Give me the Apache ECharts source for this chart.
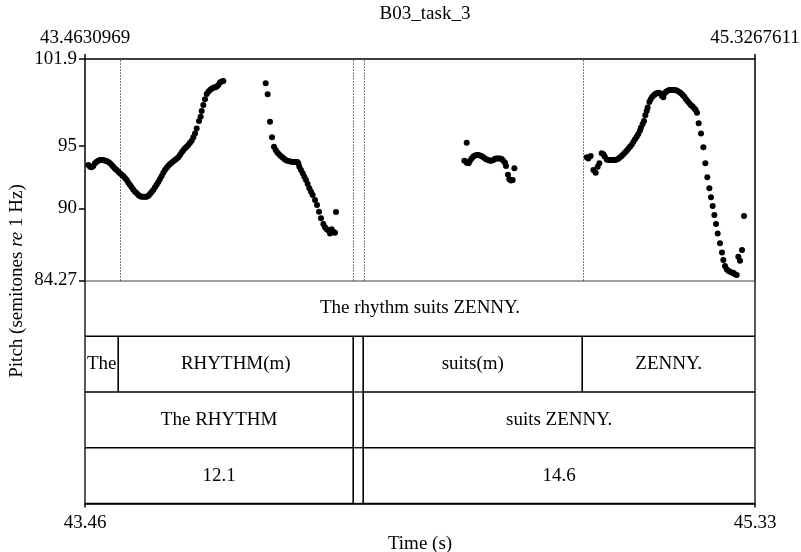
<!DOCTYPE html>
<html><head><meta charset="utf-8">
<script src="https://cdn.jsdelivr.net/npm/echarts@6/dist/echarts.min.js"></script>
<style>html,body{margin:0;padding:0;background:#fff}#c{width:801px;height:552px}</style>
</head><body><div id="c"></div>
<script>
// ---------- axis ranges & tick labels ----------
const tStart = 43.4630969, tEnd = 45.3267611;
const pMin = 84.27, pMax = 101.9;
const pitchTicks = [84.27, 90, 95, 101.9];
const timeTicks = [tStart, tEnd];

// ---------- pitch points (time s, semitones re 1 Hz) ----------
const seg1T = [43.4724,43.4770,43.4816,43.4863,43.4909,43.4956,43.5002,43.5048,43.5095,43.5141,43.5188,43.5234,43.5280,43.5327,43.5373,43.5419,43.5466,43.5512,43.5558,43.5605,43.5651,43.5697,43.5744,43.5790,43.5837,43.5883,43.5929,43.5976,43.6022,43.6068,43.6115,43.6161,43.6207,43.6254,43.6300,43.6346,43.6393,43.6439,43.6485,43.6532,43.6578,43.6624,43.6671,43.6717,43.6764,43.6810,43.6856,43.6903,43.6949,43.6995,43.7042,43.7088,43.7134,43.7181,43.7227,43.7273,43.7320,43.7366,43.7412,43.7459,43.7505,43.7551,43.7598,43.7644,43.7691,43.7737,43.7802,43.7848,43.7876,43.7922,43.7969,43.8015,43.8062,43.8108,43.8154,43.8201,43.8247,43.8293,43.8340,43.8386,43.8432,43.8479];
const seg1P = [93.46,93.33,93.28,93.38,93.60,93.73,93.81,93.86,93.86,93.86,93.81,93.78,93.70,93.60,93.46,93.33,93.17,93.07,92.93,92.80,92.69,92.59,92.43,92.27,92.06,91.87,91.69,91.50,91.34,91.21,91.08,90.97,90.94,90.94,90.94,90.94,91.02,91.16,91.31,91.47,91.69,91.90,92.11,92.35,92.59,92.85,93.07,93.25,93.41,93.54,93.65,93.76,93.86,93.97,94.07,94.26,94.45,94.63,94.79,94.92,95.06,95.24,95.40,95.67,95.98,96.36,96.97,97.31,97.76,98.24,98.69,99.12,99.30,99.43,99.54,99.62,99.65,99.70,99.83,100.02,100.10,100.15];
const seg2T = [43.9657,43.9712,43.9777,43.9833,43.9888,43.9935,43.9981,44.0027,44.0074,44.0120,44.0166,44.0213,44.0259,44.0315,44.0370,44.0426,44.0482,44.0537,44.0565,44.0593,44.0639,44.0686,44.0732,44.0778,44.0825,44.0871,44.0917,44.0964,44.1029,44.1084,44.1140,44.1196,44.1261,44.1307,44.1353,44.1400,44.1446,44.1492,44.1539,44.1585,44.1613];
const seg2P = [99.96,99.09,96.91,95.67,94.92,94.66,94.45,94.31,94.18,94.07,93.97,93.86,93.81,93.76,93.73,93.70,93.70,93.70,93.60,93.33,93.07,92.80,92.53,92.27,91.95,91.61,91.34,91.08,90.68,90.28,89.75,89.22,88.77,88.50,88.34,88.24,88.02,88.34,88.16,88.08,89.72];
const seg3T = [44.5248,44.5183,44.5248,44.5303,44.5340,44.5387,44.5433,44.5479,44.5526,44.5572,44.5618,44.5665,44.5711,44.5757,44.5804,44.5850,44.5897,44.5943,44.5989,44.6036,44.6082,44.6128,44.6175,44.6221,44.6267,44.6314,44.6342,44.6397,44.6434,44.6481,44.6527,44.6574];
const seg3P = [95.24,93.81,93.65,93.60,93.81,93.99,94.13,94.21,94.26,94.26,94.21,94.15,94.07,93.99,93.91,93.86,93.81,93.81,93.86,93.97,93.99,93.99,93.99,93.94,93.81,93.65,93.38,92.69,92.32,92.22,92.27,93.20];
const seg4T = [44.8586,44.8632,44.8697,44.8771,44.8836,44.8892,44.8938,44.9003,44.9049,44.9086,44.9142,44.9188,44.9234,44.9281,44.9327,44.9373,44.9420,44.9466,44.9513,44.9559,44.9605,44.9652,44.9698,44.9744,44.9791,44.9837,44.9883,44.9930,44.9976,45.0022,45.0069,45.0097,45.0143,45.0180,45.0217,45.0255,45.0282,45.0329,45.0366,45.0412,45.0458,45.0496,45.0533,45.0579,45.0625,45.0672,45.0718,45.0755,45.0792,45.0839,45.0885,45.0931,45.0978,45.1024,45.1070,45.1117,45.1163,45.1209,45.1256,45.1302,45.1349,45.1395,45.1441,45.1488,45.1534,45.1580,45.1618,45.1655,45.1701,45.1766,45.1831,45.1886,45.1942,45.1998,45.2044,45.2090,45.2137,45.2183,45.2229,45.2294,45.2350,45.2387,45.2433,45.2480,45.2526,45.2572,45.2628,45.2665,45.2712,45.2758,45.2804,45.2851,45.2906,45.2962];
const seg4P = [94.07,93.99,94.18,93.07,92.85,93.33,93.60,94.39,94.31,94.13,93.91,93.86,93.86,93.86,93.86,93.86,93.91,93.97,94.07,94.18,94.31,94.45,94.60,94.76,94.92,95.08,95.29,95.51,95.72,95.93,96.20,96.44,96.73,96.97,97.42,97.76,98.03,98.48,98.69,98.90,99.04,99.12,99.17,99.22,99.17,98.98,98.85,99.17,99.30,99.38,99.43,99.43,99.43,99.43,99.41,99.35,99.27,99.17,99.04,98.90,98.69,98.53,98.37,98.21,98.11,97.97,97.84,97.63,96.78,95.98,94.87,93.60,92.48,91.61,90.89,90.20,89.48,88.77,88.02,87.23,86.49,85.90,85.42,85.16,85.05,84.97,84.89,84.89,84.76,84.71,86.17,85.85,86.70,89.40];

// ---------- annotation tiers ----------
const tier1Bounds = [tStart, tEnd];
const tier1Labels = ["The rhythm suits ZENNY."];
const tier2Bounds = [tStart, 43.5557, 44.2094, 44.2372, 44.8464, tEnd];
const tier2Labels = ["The", "RHYTHM(m)", "", "suits(m)", "ZENNY."];
const tier3Bounds = [tStart, 44.2094, 44.2372, tEnd];
const tier3Labels = ["The RHYTHM", "", "suits ZENNY."];
const tier4Bounds = [tStart, 44.2094, 44.2372, tEnd];
const tier4Labels = ["12.1", "", "14.6"];

const FONT = 'Liberation Serif';
const FS = 19;

const pitchData = [];
[[seg1T, seg1P], [seg2T, seg2P], [seg3T, seg3P], [seg4T, seg4P]].forEach(([T, P]) => {
  T.forEach((t, i) => pitchData.push([t, P[i]]));
});

const tierData = [], tierText = [];
[[tier1Bounds, tier1Labels], [tier2Bounds, tier2Labels], [tier3Bounds, tier3Labels], [tier4Bounds, tier4Labels]]
  .forEach(([B, L], k) => {
    for (let i = 0; i < L.length; i++) { tierData.push([B[i], B[i + 1], k]); tierText.push(L[i]); }
  });
const innerBounds = tier2Bounds.slice(1, -1);

const chart = echarts.init(document.getElementById('c'), null, { renderer: 'canvas' });
const black = { color: '#000', width: 1.5 };
chart.setOption({
  animation: false,
  backgroundColor: '#fff',
  textStyle: { fontFamily: FONT },
  title: { text: 'B03_task_3', left: 420, top: 0, textAlign: 'center',
    textStyle: { fontFamily: FONT, fontSize: FS, fontWeight: 'normal', color: '#000' } },
  grid: [
    { left: 85, top: 59, width: 670, height: 221.5, outerBoundsMode: 'none', containLabel: false },
    { left: 85, top: 280.5, width: 670, height: 223, outerBoundsMode: 'none', containLabel: false }
  ],
  xAxis: [
    { gridIndex: 0, type: 'value', position: 'top', min: tStart, max: tEnd,
      axisLine: { show: true, onZero: false, lineStyle: black },
      axisTick: { show: true, customValues: timeTicks, length: 5, lineStyle: black },
      axisLabel: { show: true, customValues: timeTicks, formatter: v => v.toFixed(7), fontSize: FS, fontFamily: FONT, color: '#000', margin: 11 },
      splitLine: { show: false } },
    { gridIndex: 0, type: 'value', position: 'bottom', min: tStart, max: tEnd,
      axisLine: { show: true, onZero: false, lineStyle: { color: '#808080', width: 1.5 } },
      axisTick: { show: false }, axisLabel: { show: false }, splitLine: { show: false } },
    { gridIndex: 1, type: 'value', position: 'bottom', min: tStart, max: tEnd,
      axisLine: { show: true, onZero: false, lineStyle: black },
      axisTick: { show: true, customValues: timeTicks, length: 4, lineStyle: black },
      axisLabel: { show: true, customValues: timeTicks, formatter: v => v.toFixed(2), fontSize: FS, fontFamily: FONT, color: '#000', margin: 10 },
      splitLine: { show: false },
      name: 'Time (s)', nameLocation: 'middle', nameGap: 31,
      nameTextStyle: { fontSize: FS, fontFamily: FONT, color: '#000' } }
  ],
  yAxis: [
    { gridIndex: 0, type: 'value', min: pMin, max: pMax,
      axisLine: { show: true, onZero: false, lineStyle: black },
      axisTick: { show: true, customValues: pitchTicks, length: 6, lineStyle: black },
      axisLabel: { show: true, customValues: pitchTicks, formatter: v => String(v), fontSize: FS, fontFamily: FONT, color: '#000', margin: 8 },
      splitLine: { show: false } },
    { gridIndex: 0, type: 'value', position: 'right', min: pMin, max: pMax,
      axisLine: { show: true, onZero: false, lineStyle: black },
      axisTick: { show: false }, axisLabel: { show: false }, splitLine: { show: false } },
    { gridIndex: 1, type: 'value', min: 0, max: 4, inverse: true, show: false }
  ],
  graphic: [{
    type: 'text', x: 17, y: 281, rotation: Math.PI / 2,
    style: {
      text: '{a|Pitch (semitones }{i|re}{a| 1 Hz)}',
      align: 'center', verticalAlign: 'middle',
      rich: {
        a: { fontFamily: FONT, fontSize: FS, fill: '#000', color: '#000' },
        i: { fontFamily: FONT, fontSize: FS, fontStyle: 'italic', fill: '#000', color: '#000' }
      }
    }
  }],
  series: [
    { type: 'scatter', xAxisIndex: 0, yAxisIndex: 0, data: pitchData,
      symbol: 'circle', symbolSize: 6, itemStyle: { color: '#000', opacity: 1 }, silent: true,
      markLine: { silent: true, symbol: 'none', label: { show: false },
        lineStyle: { type: [1, 2], color: '#000', width: 1 },
        data: innerBounds.map(v => ({ xAxis: v })) } },
    { type: 'custom', xAxisIndex: 2, yAxisIndex: 2, data: tierData, clip: false, silent: true,
      renderItem(params, api) {
        const s = api.value(0), e = api.value(1), k = api.value(2);
        const a = api.coord([s, k]), b = api.coord([e, k + 1]);
        const st = { stroke: '#000', lineWidth: 1.3 };
        const ch = [
          { type: 'line', shape: { x1: a[0], y1: a[1], x2: a[0], y2: b[1] }, style: st },
          { type: 'line', shape: { x1: b[0], y1: a[1], x2: b[0], y2: b[1] }, style: st },
          { type: 'line', shape: { x1: a[0], y1: b[1], x2: b[0], y2: b[1] }, style: st }
        ];
        const label = tierText[params.dataIndex];
        if (label) ch.push({ type: 'text', x: (a[0] + b[0]) / 2, y: (a[1] + b[1]) / 2,
          style: { text: label, align: 'center', verticalAlign: 'middle', fontFamily: FONT, fontSize: FS, fill: '#000' } });
        return { type: 'group', children: ch };
      } }
  ]
});
</script></body></html>
